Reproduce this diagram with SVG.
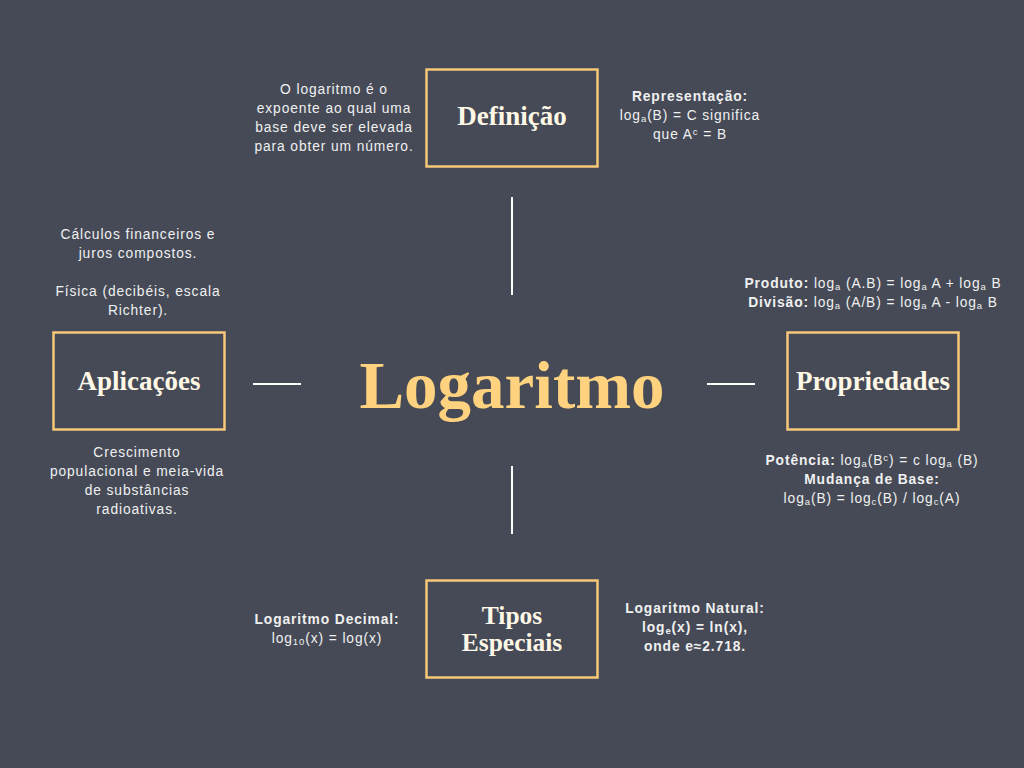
<svg xmlns="http://www.w3.org/2000/svg" width="1024" height="768" viewBox="0 0 1024 768">
<style>
.box{fill:none;stroke:#F7C878;stroke-width:2.5}
.lbl{font-family:"Liberation Serif","DejaVu Serif",serif;font-weight:bold;font-size:27px;fill:#FFF8E6;text-anchor:middle}
.lbl2{font-size:25.5px}
.t{font-family:"Liberation Sans",Arial,sans-serif;font-size:13.8px;fill:#F0F0F0;text-anchor:middle;letter-spacing:0.9px}
.b{font-weight:bold}
.conn{stroke:#FFFFFF;stroke-width:2}
.s{font-size:9.5px}
</style>
<rect width="1024" height="768" fill="#454A56"/>
<g id="connectors">
<line class="conn" x1="512" y1="197" x2="512" y2="295"/>
<line class="conn" x1="512" y1="466" x2="512" y2="534"/>
<line class="conn" x1="253" y1="384" x2="301" y2="384"/>
<line class="conn" x1="707" y1="384" x2="755" y2="384"/>
</g>
<g id="center">
<text x="512" y="408" font-family="Liberation Serif,'DejaVu Serif',serif" font-weight="bold" font-size="67" fill="#FFD27F" text-anchor="middle">Logaritmo</text>
</g>
<g id="definicao">
<rect class="box" x="426.5" y="69.5" width="171" height="97"/>
<text class="lbl" x="512" y="125">Definição</text>
<text class="t" x="334" y="94">O logaritmo é o</text>
<text class="t" x="334" y="113">expoente ao qual uma</text>
<text class="t" x="334" y="132">base deve ser elevada</text>
<text class="t" x="334" y="151">para obter um número.</text>
<text class="t b" x="690" y="101">Representação:</text>
<text class="t" x="690" y="120">log<tspan class="s" dy="2">a</tspan><tspan dy="-2">(B) = C significa</tspan></text>
<text class="t" x="690" y="139">que A<tspan class="s" dy="-4">c</tspan><tspan dy="4"> = B</tspan></text>
</g>
<g id="aplicacoes">
<rect class="box" x="53.5" y="332.5" width="171" height="97"/>
<text class="lbl" x="139" y="390">Aplicações</text>
<text class="t" x="138" y="239">Cálculos financeiros e</text>
<text class="t" x="138" y="258">juros compostos.</text>
<text class="t" x="138" y="296">Física (decibéis, escala</text>
<text class="t" x="138" y="315">Richter).</text>
<text class="t" x="137" y="457">Crescimento</text>
<text class="t" x="137" y="476">populacional e meia-vida</text>
<text class="t" x="137" y="495">de substâncias</text>
<text class="t" x="137" y="514">radioativas.</text>
</g>
<g id="propriedades">
<rect class="box" x="787.5" y="332.5" width="171" height="97"/>
<text class="lbl" x="873" y="390">Propriedades</text>
<text class="t" x="873" y="288"><tspan class="b">Produto:</tspan> log<tspan class="s" dy="2">a</tspan><tspan dy="-2"> (A.B) = log</tspan><tspan class="s" dy="2">a</tspan><tspan dy="-2"> A + log</tspan><tspan class="s" dy="2">a</tspan><tspan dy="-2"> B</tspan></text>
<text class="t" x="873" y="307"><tspan class="b">Divisão:</tspan> log<tspan class="s" dy="2">a</tspan><tspan dy="-2"> (A/B) = log</tspan><tspan class="s" dy="2">a</tspan><tspan dy="-2"> A - log</tspan><tspan class="s" dy="2">a</tspan><tspan dy="-2"> B</tspan></text>
<text class="t" x="872" y="465"><tspan class="b">Potência:</tspan> log<tspan class="s" dy="2">a</tspan><tspan dy="-2">(B</tspan><tspan class="s" dy="-4">c</tspan><tspan dy="4">) = c log</tspan><tspan class="s" dy="2">a</tspan><tspan dy="-2"> (B)</tspan></text>
<text class="t b" x="872" y="484">Mudança de Base:</text>
<text class="t" x="872" y="503">log<tspan class="s" dy="2">a</tspan><tspan dy="-2">(B) = log</tspan><tspan class="s" dy="2">c</tspan><tspan dy="-2">(B) / log</tspan><tspan class="s" dy="2">c</tspan><tspan dy="-2">(A)</tspan></text>
</g>
<g id="tipos">
<rect class="box" x="426.5" y="580.5" width="171" height="97"/>
<text class="lbl lbl2" x="512" y="624">Tipos</text>
<text class="lbl lbl2" x="512" y="651">Especiais</text>
<text class="t b" x="327" y="624">Logaritmo Decimal:</text>
<text class="t" x="327" y="643">log<tspan class="s" dy="2">10</tspan><tspan dy="-2">(x) = log(x)</tspan></text>
<text class="t b" x="695" y="613">Logaritmo Natural:</text>
<text class="t b" x="695" y="632">log<tspan class="s" dy="2">e</tspan><tspan dy="-2">(x) = ln(x),</tspan></text>
<text class="t b" x="695" y="651">onde e≈2.718.</text>
</g>
</svg>
